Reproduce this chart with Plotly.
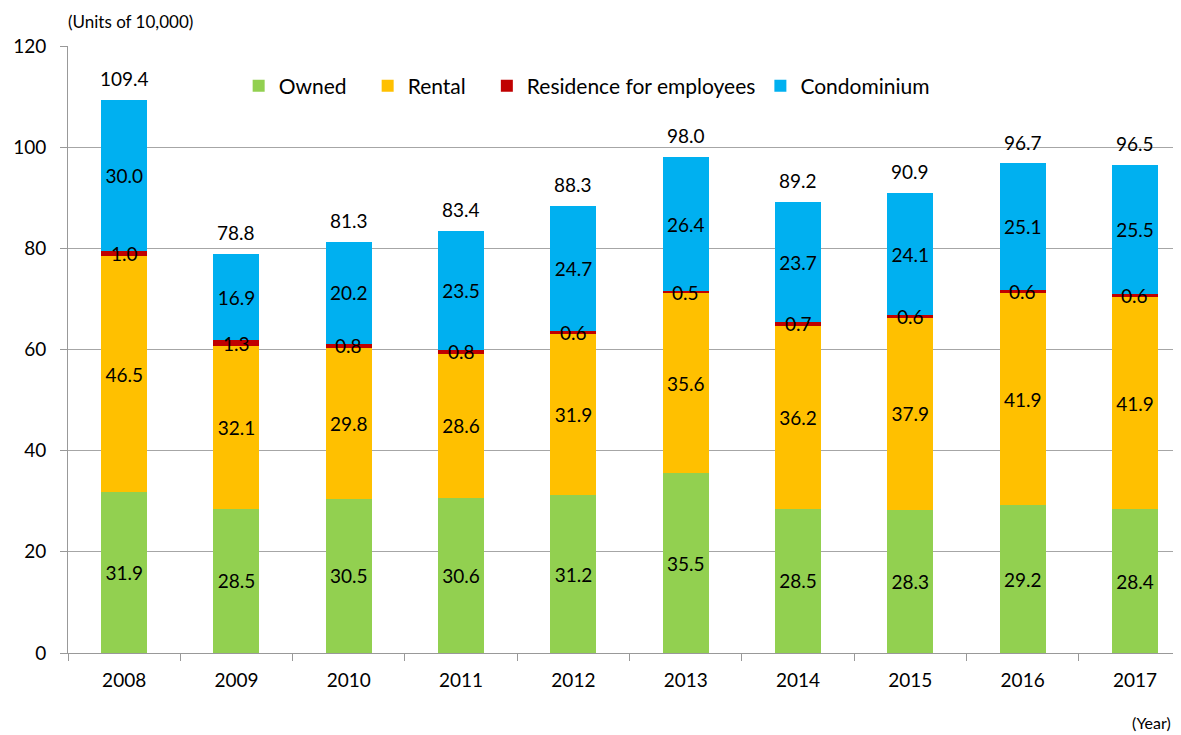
import plotly.graph_objects as go

years = ["2008", "2009", "2010", "2011", "2012", "2013", "2014", "2015", "2016", "2017"]
owned = [31.9, 28.5, 30.5, 30.6, 31.2, 35.5, 28.5, 28.3, 29.2, 28.4]
rental = [46.5, 32.1, 29.8, 28.6, 31.9, 35.6, 36.2, 37.9, 41.9, 41.9]
employees = [1.0, 1.3, 0.8, 0.8, 0.6, 0.5, 0.7, 0.6, 0.6, 0.6]
condo = [30.0, 16.9, 20.2, 23.5, 24.7, 26.4, 23.7, 24.1, 25.1, 25.5]
totals = [109.4, 78.8, 81.3, 83.4, 88.3, 98.0, 89.2, 90.9, 96.7, 96.5]

FONT = "Lato"
NB = "\u00a0"
series = [
    ("Owned", owned, "#92D050", True, 3),
    ("Rental", rental, "#FFC000", True, 3),
    ("Residence for employees", employees, "#C00000", False, 0),
    ("Condominium", condo, "#00B0F0", True, 0),
]

fig = go.Figure()
for name, vals, col, label, pad in series:
    fig.add_trace(go.Bar(
        x=years, y=vals, name=name + NB * pad,
        marker=dict(color=col, line=dict(width=0)),
        text=[f"{v:.1f}" for v in vals] if label else None,
        textposition="inside" if label else "none",
        insidetextanchor="middle", constraintext="none", textangle=0,
        textfont=dict(family=FONT, size=19, color="black"),
    ))

# labels on the thin red segments
for i, (o, r, e) in enumerate(zip(owned, rental, employees)):
    fig.add_annotation(x=i, y=o + r + e / 2, text=f"{e:.1f}", showarrow=False,
                       yanchor="middle", font=dict(family=FONT, size=19, color="black"))

for i, t in enumerate(totals):
    fig.add_annotation(x=i, y=t, text=f"{t:.1f}", showarrow=False,
                       yanchor="bottom", yshift=8,
                       font=dict(family=FONT, size=19, color="black"))

fig.add_annotation(xref="paper", yref="paper", x=0.0, y=1.0, xanchor="left",
                   yanchor="bottom", yshift=12, xshift=-2, text="(Units of 10,000)",
                   showarrow=False, font=dict(family=FONT, size=17, color="black"))
fig.add_annotation(xref="paper", yref="paper", x=1.0, y=0, xanchor="right",
                   yanchor="top", yshift=-58, xshift=-8, text="(Year)",
                   showarrow=False, font=dict(family=FONT, size=16, color="black"))

fig.update_layout(
    width=1173, height=727,
    margin=dict(l=60, r=0, t=38, b=82),
    barmode="stack", bargap=0.59,
    plot_bgcolor="white", paper_bgcolor="white",
    font=dict(family=FONT, size=19, color="black"),
    showlegend=True,
    legend=dict(orientation="h", x=0.466, xanchor="center", y=0.934, yanchor="middle",
                font=dict(family=FONT, size=21), bgcolor="rgba(0,0,0,0)",
                traceorder="normal", itemwidth=30),
    xaxis=dict(type="category", range=[-0.5, 9.41], tickson="boundaries",
               ticks="outside", ticklen=7, ticklabelstandoff=10,
               tickcolor="#999999", showline=True, linecolor="#999999",
               showgrid=False, tickfont=dict(size=19)),
    yaxis=dict(range=[0, 120], dtick=20, ticks="outside", ticklen=7,
               ticklabelstandoff=10,
               tickcolor="#999999", showline=True, linecolor="#999999",
               gridcolor="#A6A6A6", gridwidth=1, zeroline=False,
               tickfont=dict(size=19)),
)
fig.write_html("out.html")
